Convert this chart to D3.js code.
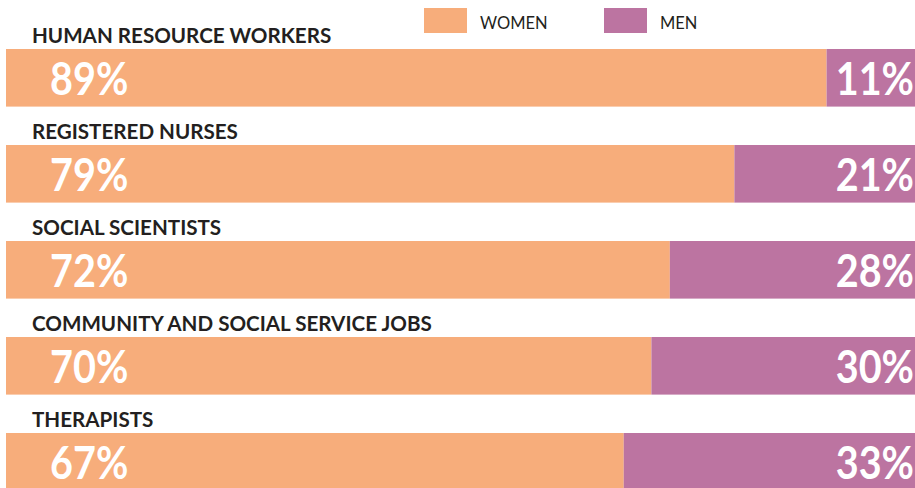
<!DOCTYPE html>
<html>
<head>
<meta charset="utf-8">
<script src="https://cdn.jsdelivr.net/npm/d3@7"></script>
<style>
  body { margin: 0; background: #fff; }
  text { font-family: Lato, "Open Sans", sans-serif; }
</style>
</head>
<body>
<script>
// ------------------------------------------ Data ------------------------------------------ //
var jobs = ["HUMAN RESOURCE WORKERS", "REGISTERED NURSES", "SOCIAL SCIENTISTS",
            "COMMUNITY AND SOCIAL SERVICE JOBS", "THERAPISTS"];
var women = [89, 79, 72, 70, 67];
var men = [11, 21, 28, 30, 33];
var series = ["WOMEN", "MEN"];

// ----------------------------------------- Init SVG ---------------------------------------- //
var width = 915, height = 488;

var svg = d3.select("body")
    .append("svg")
    .attr("width", width)
    .attr("height", height);

var color = d3.scaleOrdinal()
    .domain(series)
    .range(["#f7ad7b", "#bc74a1"]);

// bars run past the right edge, like the original crop
var x = d3.scaleLinear()
    .domain([0, 100])
    .range([6, 928]);

// step of 96px, bar height 57.6px
var y = d3.scaleBand()
    .domain(jobs)
    .range([49, 49 + 96 * (jobs.length - 0.4)])
    .paddingInner(0.4)
    .paddingOuter(0);

var pct_squeeze = 0.86; // narrow the big numbers a bit, the original face is condensed

// -------------------------------------- Draw Functions ------------------------------------- //
function draw_legend() {
    var legend = svg.append("g").attr("class", "legend");
    var item = legend.selectAll("g")
        .data(series)
        .enter().append("g")
            .attr("transform", function(d, i) { return "translate(" + (424 + i * 180) + ",8)"; });
    item.append("rect")
        .attr("width", 43)
        .attr("height", 25)
        .attr("fill", function(d) { return color(d); });
    item.append("text")
        .attr("x", 56)
        .attr("y", 21)
        .attr("fill", "#231f20")
        .attr("font-size", "16.5px")
        .text(function(d) { return d; });
}

function draw_bars() {
    var rows = svg.selectAll("g.row")
        .data(jobs)
        .enter().append("g")
            .attr("class", "row")
            .attr("transform", function(d) { return "translate(0," + y(d) + ")"; });

    rows.append("text")
        .attr("class", "cat")
        .attr("x", 32)
        .attr("y", -6)
        .attr("fill", "#231f20")
        .attr("font-size", "20.6px")
        .attr("font-weight", "bold")
        .text(function(d) { return d; });

    rows.append("rect")
        .attr("x", x(0))
        .attr("width", function(d, i) { return x(women[i]) - x(0); })
        .attr("height", y.bandwidth())
        .attr("fill", color("WOMEN"));

    rows.append("rect")
        .attr("x", function(d, i) { return x(women[i]); })
        .attr("width", function(d, i) { return x(women[i] + men[i]) - x(women[i]); })
        .attr("height", y.bandwidth())
        .attr("fill", color("MEN"));

    var base = y.bandwidth() / 2 + 17;

    rows.append("text")
        .attr("transform", "translate(50," + base + ") scale(" + pct_squeeze + ",1)")
        .attr("fill", "#fff")
        .attr("font-size", "46px")
        .attr("font-weight", "bold")
        .text(function(d, i) { return women[i] + "%"; });

    rows.append("text")
        .attr("transform", "translate(914," + base + ") scale(" + pct_squeeze + ",1)")
        .attr("fill", "#fff")
        .attr("font-size", "46px")
        .attr("font-weight", "bold")
        .attr("text-anchor", "end")
        .text(function(d, i) { return men[i] + "%"; });
}

draw_bars();
draw_legend();
</script>
</body>
</html>
